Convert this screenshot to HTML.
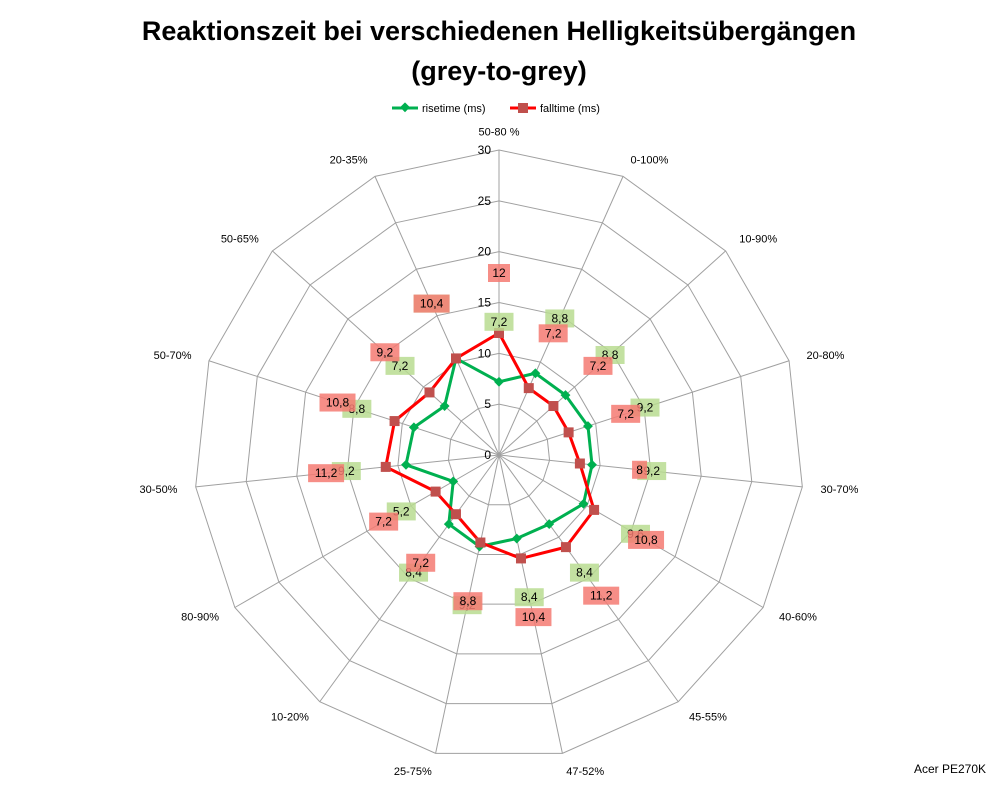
<!DOCTYPE html>
<html><head><meta charset="utf-8"><style>
body{margin:0;background:#fff;}
svg{font-family:"Liberation Sans",Arial,sans-serif;}
</style></head><body>
<svg id="chart" width="998" height="786">
<text x="499" y="40" text-anchor="middle" font-size="27" font-weight="bold">Reaktionszeit bei verschiedenen Helligkeitsübergängen</text>
<text x="499" y="80" text-anchor="middle" font-size="27" font-weight="bold">(grey-to-grey)</text>
<g>
<g>
<line x1="392" y1="108" x2="418" y2="108" stroke="#00b050" stroke-width="3"/>
<rect x="401" y="104" width="7" height="7" fill="#00b050" transform="rotate(45 405 108)"/>
<text x="422" y="112" font-size="11">risetime (ms)</text></g>
<g>
<line x1="510" y1="108" x2="536" y2="108" stroke="#ff0000" stroke-width="3"/>
<rect x="518" y="103" width="10" height="10" fill="#c0504d"/>
<text x="540" y="112" font-size="11">falltime (ms)</text></g>
</g>
<g id="grid"></g><g id="plot"></g><g id="labels"></g>
<text x="986" y="773" text-anchor="end" font-size="12">Acer PE270K</text>
</svg>
<script>
const categories=["50-80 %","0-100%","10-90%","20-80%","30-70%","40-60%","45-55%","47-52%","25-75%","10-20%","80-90%","30-50%","50-70%","50-65%","20-35%"];
const risetime=[7.2,8.8,8.8,9.2,9.2,9.6,8.4,8.4,9.2,8.4,5.2,9.2,8.8,7.2,10.4];
const falltime=[12,7.2,7.2,7.2,8,10.8,11.2,10.4,8.8,7.2,7.2,11.2,10.8,9.2,10.4];
const ticks=[0,5,10,15,20,25,30];
const cx=499,cy=455,R=305,maxV=30;
const NS="http://www.w3.org/2000/svg";
function ang(i){return i*2*Math.PI/categories.length;}
function pt(i,v){const r=v/maxV*R,a=ang(i);return [cx+r*Math.sin(a),cy-r*Math.cos(a)];}
function mk(tag,attrs,parent){const e=document.createElementNS(NS,tag);for(const k in attrs)e.setAttribute(k,attrs[k]);parent.appendChild(e);return e;}
const grid=document.getElementById('grid'),plot=document.getElementById('plot'),lab=document.getElementById('labels');
ticks.slice(1).forEach(t=>{
 const p=mk('polygon',{points:categories.map((c,i)=>pt(i,t).join(',')).join(' '),fill:'none',stroke:'#a0a0a0','stroke-width':1},grid);
 
 
});
categories.forEach((c,i)=>{
 const [x,y]=pt(i,maxV);
 const l=mk('line',{x1:cx,y1:cy,x2:x,y2:y,stroke:'#a0a0a0','stroke-width':1},grid);
 
 
 const a=ang(i),s=Math.sin(a);
 const [lx,ly]=pt(i,maxV*1.06);
 const t=mk('text',{x:lx,y:ly+4,'font-size':11,'text-anchor':Math.abs(s)<0.2?'middle':(s>0?'start':'end')},lab);
 t.textContent=c;
 
 
});
ticks.forEach(t=>{
 const [x,y]=pt(0,t);
 const e=mk('text',{x:x-8,y:y+4,'font-size':12,'text-anchor':'end'},lab);
 e.textContent=t;
 
 
});
function series(vals,color,mcolor,box,name,diamond){
 const pts=vals.map((v,i)=>pt(i,v));
 const pl=mk('polygon',{points:pts.map(p=>p.join(',')).join(' '),fill:'none',stroke:color,'stroke-width':3,'stroke-linejoin':'round'},plot);
 
 
 pts.forEach(([x,y],i)=>{
  let m;
  if(diamond){m=mk('rect',{x:x-3.5,y:y-3.5,width:7,height:7,fill:mcolor,transform:`rotate(45 ${x} ${y})`},plot);}
  else{m=mk('rect',{x:x-5,y:y-5,width:10,height:10,fill:mcolor},plot);}
  
  
  const r=vals[i]/maxV*R+60,a=ang(i);
  const lx=cx+r*Math.sin(a),ly=cy-r*Math.cos(a);
  const txt=String(vals[i]).replace('.',',');
  const w=txt.length*7+8;
  const b=mk('rect',{x:lx-w/2,y:ly-9,width:w,height:18,fill:box,'fill-opacity':0.85},lab);
  
  
  const t=mk('text',{x:lx,y:ly+4,'font-size':12,'text-anchor':'middle'},lab);
  t.textContent=txt;
  
  
 });
}
series(risetime,'#00b050','#00b050','#b8dc90','risetime',true);
series(falltime,'#ff0000','#c0504d','#f47a72','falltime',false);
</script>
</body></html>
